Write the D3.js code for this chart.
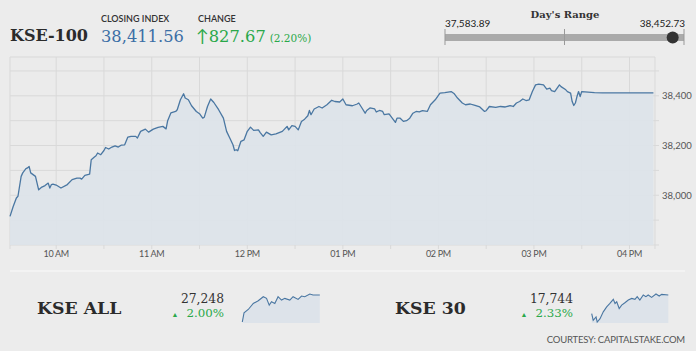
<!DOCTYPE html>
<html><head><meta charset="utf-8">
<script src="https://cdn.jsdelivr.net/npm/d3@7"></script>
<style>
html,body{margin:0;padding:0;background:#ececec;}
svg{display:block;}
</style></head>
<body>
<svg id="c" width="696" height="351"></svg>
<script>
// ---------- DATA ----------
const mainTimes = ["9:31","9:33","9:35","9:36","9:38","9:39","9:41","9:42","9:43","9:44","9:47","9:49","9:51","9:53","9:55","9:56","9:57","9:58",
"10:00","10:03","10:07","10:10","10:13","10:15","10:16","10:18","10:21","10:22","10:24","10:25","10:26","10:28","10:30","10:31","10:33","10:35","10:37","10:39","10:41","10:43","10:45","10:47","10:50","10:51","10:53","10:56","10:58",
"11:01","11:04","11:07","11:09","11:10","11:12","11:15","11:16","11:18","11:20","11:21","11:23","11:25","11:28","11:30","11:32","11:33","11:35","11:37","11:39","11:42","11:45","11:47","11:49","11:51","11:52","11:53","11:54","11:56","11:58",
"12:00","12:02","12:04","12:07","12:08","12:10","12:12","12:15","12:18","12:22","12:25","12:26","12:28","12:30","12:32","12:34","12:36","12:38","12:39","12:40","12:42","12:45","12:47","12:50","12:53","12:55","12:58",
"13:00","13:02","13:06","13:09","13:10","13:12","13:14","13:15","13:17","13:20","13:21","13:23","13:25","13:26","13:29","13:31","13:33","13:34","13:36","13:38","13:40","13:42","13:44","13:46","13:48","13:50","13:53","13:55","13:58",
"14:01","14:04","14:08","14:10","14:12","14:15","14:17","14:20","14:23","14:26","14:29","14:30","14:32","14:36","14:39","14:42","14:45","14:47","14:49","14:51","14:53","14:55","14:57","14:59",
"15:01","15:03","15:06","15:08","15:10","15:11","15:13","15:16","15:17","15:20","15:21","15:23","15:24","15:25","15:26","15:27","15:28","15:29","15:30","15:38","15:43","16:15"];
const mainValues = [37915,37955,37989,37996,38076,38090,38107,38110,38116,38090,38076,38022,38033,38039,38049,38029,38043,38045,
38041,38029,38043,38063,38069,38069,38065,38080,38085,38143,38154,38159,38170,38163,38180,38192,38186,38194,38199,38194,38202,38203,38234,38237,38237,38230,38257,38266,38254,
38266,38273,38277,38267,38300,38331,38337,38344,38384,38408,38391,38384,38360,38337,38328,38310,38314,38357,38387,38373,38344,38310,38257,38230,38203,38180,38183,38179,38217,38223,
38257,38274,38261,38263,38253,38237,38254,38243,38247,38257,38277,38263,38280,38277,38263,38297,38306,38320,38341,38324,38347,38357,38351,38364,38382,38377,38375,
38387,38364,38360,38367,38371,38351,38330,38341,38351,38347,38335,38341,38337,38324,38327,38310,38293,38310,38310,38297,38300,38310,38330,38337,38335,38340,38337,38364,38384,
38411,38413,38417,38408,38391,38371,38364,38367,38361,38355,38337,38340,38357,38353,38357,38355,38360,38357,38371,38377,38387,38381,38384,38417,
38444,38447,38444,38427,38431,38421,38417,38444,38437,38424,38417,38411,38377,38361,38371,38397,38417,38397,38417,38413,38411.56,38411.56];

const allTimes = ["9:31","9:40","10:02","10:28","10:54","11:20","11:37","11:51","12:03","12:20","12:37","12:55","13:12","13:38","13:55","14:21","14:39","14:56","15:22","15:39","16:14"];
const allValues = [26901,27018,27062,27140,27174,27226,27205,27118,27161,27140,27226,27183,27205,27183,27226,27192,27235,27226,27261,27248,27248];

const k30Times = ["9:31","9:39","9:54","10:00","10:15","10:32","10:50","11:07","11:25","11:34","11:43","11:56","12:09","12:26","12:44","13:02","13:19","13:31","13:45","14:03","14:17","14:29","14:47","15:10","15:27","15:40","16:15"];
const k30Values = [17579,17519,17549,17504,17534,17594,17639,17669,17705,17669,17684,17624,17654,17675,17699,17714,17705,17729,17699,17744,17729,17744,17723,17753,17735,17750,17744];

const yGridValues = [37800,37900,38000,38100,38200,38300,38400,38500];
const yTickLabels = [38000,38200,38400];
const xTickHours = ["10:00","11:00","12:00","13:00","14:00","15:00","16:00"];
const xTickLabels = ["10 AM","11 AM","12 PM","01 PM","02 PM","03 PM","04 PM"];
const xGridTimes = ["10:00","10:30","11:00","11:30","12:00","12:30","13:00","13:30","14:00","14:30","15:00","15:30","16:00"];

const header = {name:"KSE-100", closeLabel:"CLOSING INDEX", close:"38,411.56", changeLabel:"CHANGE", change:"827.67", changePct:"(2.20%)"};
const dayRange = {low:37583.89, high:38452.73, current:38411.56, title:"Day's Range"};
const subIndices = [
  {name:"KSE ALL", value:"27,248", pct:"2.00%"},
  {name:"KSE 30", value:"17,744", pct:"2.33%"}
];
const courtesy = "COURTESY: CAPITALSTAKE.COM";

// ---------- HELPERS ----------
const toDate = s => { const [h,m] = s.split(":").map(Number); return new Date(2019,0,1,h,m); };
const svg = d3.select("#c");
const serif = "'DejaVu Serif', serif";
const sans = "Lato, 'Open Sans', sans-serif";
const blue = "#3c6fa6", green = "#2aa84a", lineCol = "#4a77a2", fillCol = "#dde3ea", grid = "#d9d9d9", txt = "#2b2b2b", muted = "#555";

// ---------- MAIN CHART ----------
const x = d3.scaleTime().domain([toDate("9:31"), toDate("16:16")]).range([10, 655]);
const y = d3.scaleLinear().domain([37800, 38556]).range([245, 57]);

const plot = svg.append("g");
plot.append("rect").attr("x",10).attr("y",57).attr("width",645).attr("height",188).attr("fill","#ebebeb");
plot.selectAll(".hg").data(yGridValues).join("line")
  .attr("x1",10).attr("x2",659).attr("y1",d=>y(d)).attr("y2",d=>y(d))
  .attr("stroke",grid).attr("stroke-width",1);
plot.append("line").attr("x1",10).attr("x2",655).attr("y1",57).attr("y2",57).attr("stroke",grid);
plot.selectAll(".vg").data(xGridTimes).join("line")
  .attr("x1",d=>x(toDate(d))).attr("x2",d=>x(toDate(d))).attr("y1",57).attr("y2",249)
  .attr("stroke",grid).attr("stroke-width",1);
plot.append("line").attr("x1",10).attr("x2",10).attr("y1",57).attr("y2",249).attr("stroke",grid);
plot.append("line").attr("x1",655).attr("x2",655).attr("y1",57).attr("y2",249).attr("stroke",grid);

const pts = mainTimes.map((t,i)=>({t:toDate(t), v:mainValues[i]}));
plot.append("path").datum(pts)
  .attr("d", d3.area().x(d=>x(d.t)).y0(y(37800)).y1(d=>y(d.v)))
  .attr("fill",fillCol).attr("opacity",0.9);
plot.append("path").datum(pts)
  .attr("d", d3.line().x(d=>x(d.t)).y(d=>y(d.v)))
  .attr("fill","none").attr("stroke",lineCol).attr("stroke-width",1.3).attr("stroke-linejoin","round");

svg.selectAll(".yl").data(yTickLabels).join("text")
  .attr("x",662).attr("y",d=>y(d)).attr("dy","0.35em")
  .attr("font-family",sans).attr("font-size",9.5).attr("fill",muted)
  .text(d=>d3.format(",")(d));
svg.selectAll(".xl").data(xTickHours).join("text")
  .attr("x",d=>x(toDate(d))).attr("y",257).attr("text-anchor","middle")
  .attr("font-family",sans).attr("font-size",9).attr("fill",muted).attr("letter-spacing","-0.3")
  .text((d,i)=>xTickLabels[i]);

// ---------- HEADER ----------
svg.append("text").attr("x",10).attr("y",41).attr("font-family",serif).attr("font-weight","bold")
  .attr("font-size",16).attr("fill",txt).text(header.name);
svg.append("text").attr("x",101).attr("y",22).attr("font-family",sans).attr("font-size",9).attr("font-weight",600)
  .attr("fill","#333").text(header.closeLabel);
svg.append("text").attr("x",101).attr("y",42).attr("font-family",serif).attr("font-size",16.3)
  .attr("fill",blue).text(header.close);
svg.append("text").attr("x",198).attr("y",22).attr("font-family",sans).attr("font-size",9).attr("font-weight",600)
  .attr("fill","#333").text(header.changeLabel);
const ch = svg.append("text").attr("x",196).attr("y",42).attr("fill",green);
ch.append("tspan").attr("font-family",sans).attr("font-size",17).text("↑");
ch.append("tspan").attr("font-family",serif).attr("font-size",16.3).text(header.change);
ch.append("tspan").attr("font-family",serif).attr("font-size",10.5).attr("dx",4).text(header.changePct);

const rx = d3.scaleLinear().domain([dayRange.low, dayRange.high]).range([445, 684]);
svg.append("text").attr("x",565).attr("y",18).attr("text-anchor","middle").attr("font-family",serif)
  .attr("font-weight","bold").attr("font-size",10).attr("fill","#333").text(dayRange.title);
svg.append("text").attr("x",445).attr("y",27).attr("font-family",sans).attr("font-size",10).attr("fill","#222")
  .text(d3.format(",.2f")(dayRange.low));
svg.append("text").attr("x",685).attr("y",27).attr("text-anchor","end").attr("font-family",sans).attr("font-size",10).attr("fill","#222")
  .text(d3.format(",.2f")(dayRange.high));
svg.append("rect").attr("x",rx(dayRange.low)).attr("y",34).attr("width",rx(dayRange.high)-rx(dayRange.low)).attr("height",7).attr("fill","#aaaaaa");
[dayRange.low,(dayRange.low+dayRange.high)/2,dayRange.high].forEach(v=>{
  svg.append("line").attr("x1",rx(v)).attr("x2",rx(v)).attr("y1",29).attr("y2",45).attr("stroke","#999").attr("stroke-width",1);
});
svg.append("circle").attr("cx",rx(dayRange.current)).attr("cy",37.5).attr("r",6).attr("fill","#333");

// ---------- BOTTOM ----------
svg.append("line").attr("x1",10).attr("x2",685).attr("y1",271).attr("y2",271).attr("stroke","#f6f6f6").attr("stroke-width",1.5);

function sparkPanel(cfg, times, values, nameX, valRight, sx0, sx1){
  svg.append("text").attr("x",nameX).attr("y",314).attr("font-family",serif).attr("font-weight","bold")
    .attr("font-size",17.3).attr("fill",txt).text(cfg.name);
  svg.append("text").attr("x",valRight).attr("y",303).attr("text-anchor","end").attr("font-family",serif)
    .attr("font-size",12.3).attr("fill","#333").text(cfg.value);
  const p = svg.append("text").attr("x",valRight).attr("y",317).attr("text-anchor","end").attr("fill",green);
  p.append("tspan").attr("font-family",sans).attr("font-size",7).text("▲");
  p.append("tspan").attr("font-family",serif).attr("font-size",11.8).attr("dx",8).text(cfg.pct);
  const d = times.map((t,i)=>({t:toDate(t), v:values[i]}));
  const sx = d3.scaleTime().domain([toDate("9:31"), toDate("16:15")]).range([sx0, sx1]);
  const sy = d3.scaleLinear().domain(d3.extent(values)).range([322, 294]);
  svg.append("path").datum(d).attr("d", d3.area().x(e=>sx(e.t)).y0(323).y1(e=>sy(e.v))).attr("fill",fillCol);
  svg.append("path").datum(d).attr("d", d3.line().x(e=>sx(e.t)).y(e=>sy(e.v)))
    .attr("fill","none").attr("stroke",lineCol).attr("stroke-width",1.1);
}
sparkPanel(subIndices[0], allTimes, allValues, 37, 224, 242.3, 320);
sparkPanel(subIndices[1], k30Times, k30Values, 395, 573, 591.7, 668.3);

svg.append("text").attr("x",685).attr("y",343).attr("text-anchor","end").attr("font-family",sans)
  .attr("font-size",9.5).attr("fill",muted).attr("letter-spacing","-0.2").text(courtesy);
</script>
</body></html>
